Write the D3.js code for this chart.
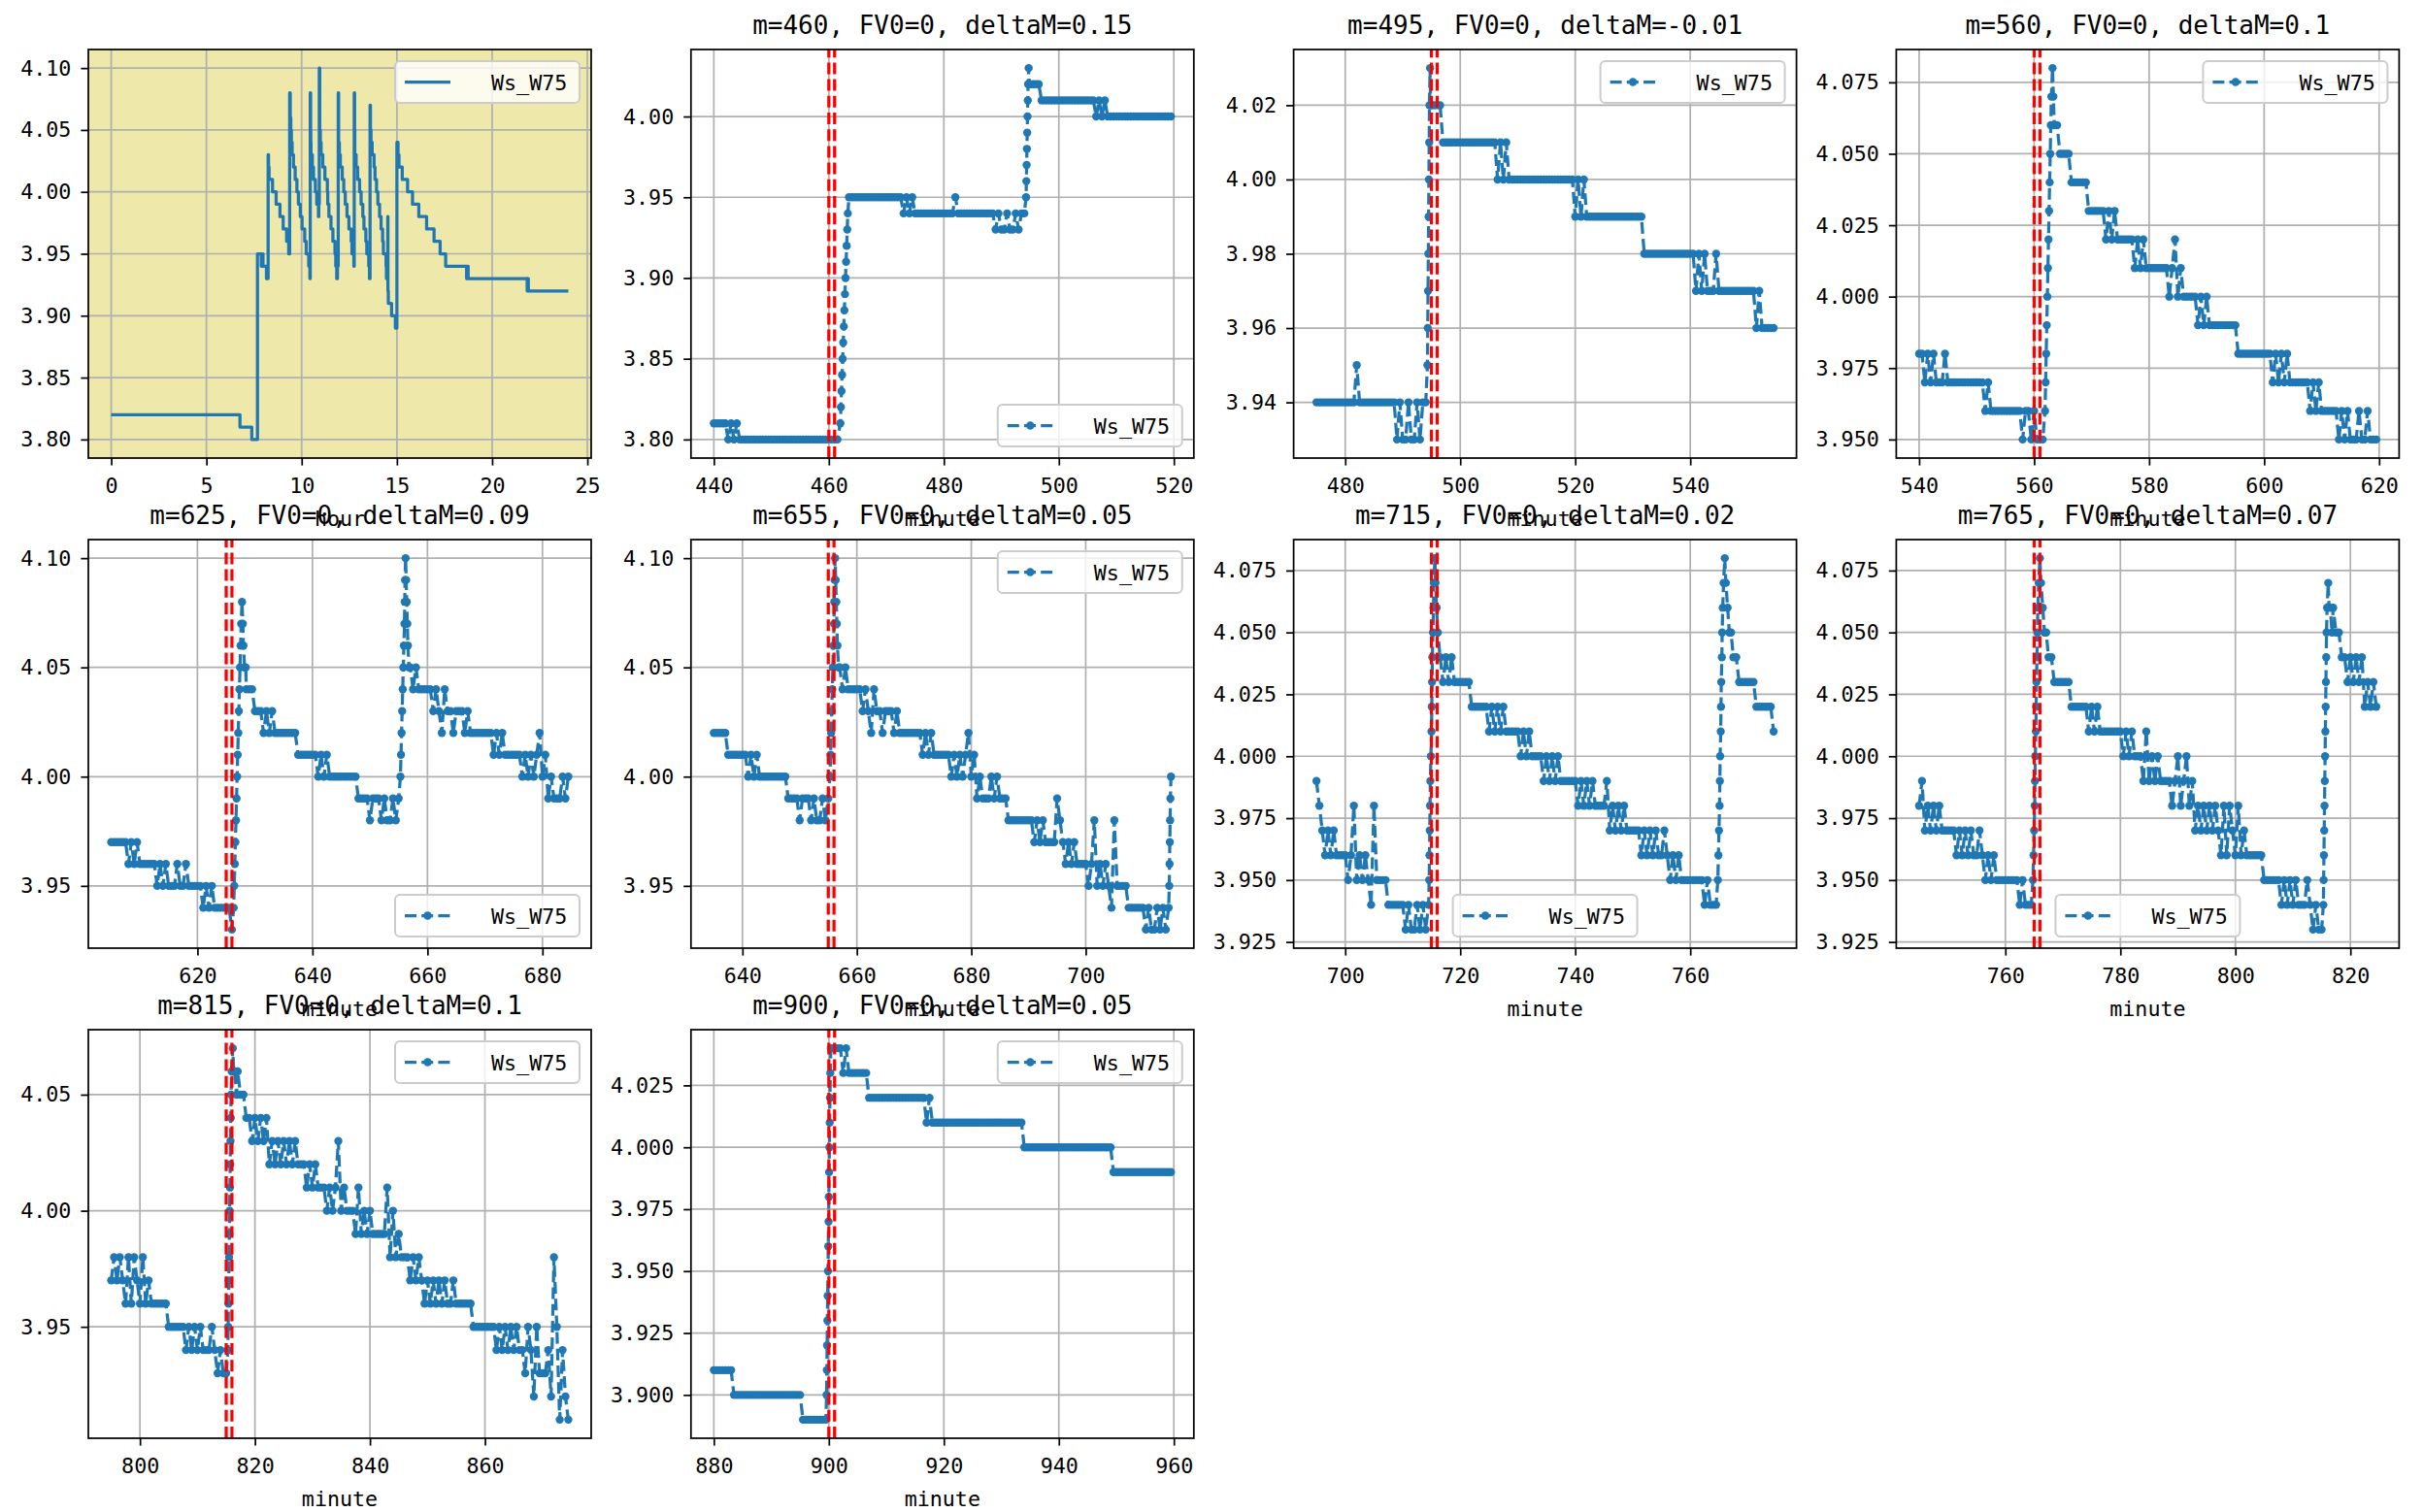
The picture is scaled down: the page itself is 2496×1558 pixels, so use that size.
<!DOCTYPE html>
<html><head><meta charset="utf-8">
<script src="https://cdn.jsdelivr.net/npm/d3@7"></script>
<style>body{margin:0;background:#fff}svg{display:block}</style>
</head><body>
<svg id="c" width="2496" height="1558"></svg>
<script>
// ---------------- DATA ----------------
// Panel 1: whole day, x in hours (step points: [hour, value])
const dayPoints = [[0,3.82],[6.76,3.81],[7.38,3.80],[7.68,3.95],[7.88,3.94],[7.95,3.95],[7.97,3.94],[8.15,3.93],[8.18,3.94],[8.21,3.93],[8.24,4.03],[8.26,4.02],[8.29,4.01],[8.47,4.00],[8.66,3.99],[8.86,3.98],[9.03,3.97],[9.21,3.96],[9.32,3.95],[9.37,4.08],[9.40,4.06],[9.43,4.05],[9.46,4.04],[9.50,4.03],[9.57,4.02],[9.66,4.01],[9.75,4.00],[9.83,3.99],[9.93,3.98],[10.02,3.97],[10.16,3.96],[10.24,3.95],[10.37,3.94],[10.43,3.93],[10.45,4.08],[10.47,4.05],[10.48,4.04],[10.49,4.03],[10.56,4.02],[10.62,4.01],[10.72,4.00],[10.79,3.99],[10.88,3.98],[10.90,3.99],[10.925,4.10],[10.95,4.05],[10.98,4.04],[11.02,4.03],[11.11,4.02],[11.22,4.01],[11.35,4.00],[11.37,3.99],[11.43,3.98],[11.54,3.97],[11.64,3.96],[11.75,3.95],[11.79,3.94],[11.84,3.93],[11.88,3.94],[11.92,4.08],[11.94,4.04],[11.98,4.03],[12.03,4.02],[12.13,4.01],[12.21,4.00],[12.29,3.99],[12.38,3.98],[12.48,3.97],[12.60,3.96],[12.64,3.95],[12.74,3.94],[12.76,4.08],[12.78,4.05],[12.79,4.03],[12.86,4.02],[12.94,4.01],[13.04,4.00],[13.12,3.99],[13.21,3.98],[13.27,3.97],[13.37,3.96],[13.42,3.95],[13.52,3.94],[13.56,3.93],[13.59,4.07],[13.61,4.05],[13.64,4.04],[13.70,4.03],[13.80,4.02],[13.85,4.01],[13.93,4.00],[14.00,3.99],[14.09,3.98],[14.17,3.97],[14.25,3.96],[14.29,3.95],[14.43,3.94],[14.45,3.93],[14.52,3.98],[14.53,3.92],[14.55,3.91],[14.72,3.90],[14.92,3.89],[15.00,4.04],[15.06,4.03],[15.11,4.02],[15.28,4.01],[15.56,4.00],[15.82,3.99],[16.15,3.98],[16.56,3.97],[16.95,3.96],[17.27,3.95],[17.56,3.94],[18.66,3.93],[18.70,3.94],[18.74,3.93],[21.84,3.92],[21.88,3.93],[21.90,3.92],[24.00,3.92]];
const dayXTicks = [0,5,10,15,20,25];
const dayYTicks = [3.80,3.85,3.90,3.95,4.00,4.05,4.10];

// Minute series Ws_W75, sampled every half minute; each chunk starts at chunkStart[k]
const chunkStart = [440,480,520,560,600,640,680,720,760,800,840,880,920];
const wsA = [
3.81,3.81,3.81,3.81,3.81,3.80,3.81,3.80,3.81,3.80,3.80,3.80,3.80,3.80,3.80,3.80,3.80,3.80,3.80,3.80,
3.80,3.80,3.80,3.80,3.80,3.80,3.80,3.80,3.80,3.80,3.80,3.80,3.80,3.80,3.80,3.80,3.80,3.80,3.80,3.80,
3.80,3.80,3.80,3.80,3.83,3.87,3.91,3.95,3.95,3.95,3.95,3.95,3.95,3.95,3.95,3.95,3.95,3.95,3.95,3.95,
3.95,3.95,3.95,3.95,3.95,3.95,3.94,3.95,3.94,3.95,3.94,3.94,3.94,3.94,3.94,3.94,3.94,3.94,3.94,3.94];
const wsB = [
3.94,3.94,3.94,3.94,3.95,3.94,3.94,3.94,3.94,3.94,3.94,3.94,3.94,3.94,3.94,3.94,3.94,3.94,3.93,3.94,
3.93,3.93,3.94,3.93,3.93,3.94,3.93,3.94,3.94,3.99,4.02,4.02,4.02,4.02,4.01,4.01,4.01,4.01,4.01,4.01,
4.01,4.01,4.01,4.01,4.01,4.01,4.01,4.01,4.01,4.01,4.01,4.01,4.01,4.00,4.01,4.00,4.01,4.00,4.00,4.00,
4.00,4.00,4.00,4.00,4.00,4.00,4.00,4.00,4.00,4.00,4.00,4.00,4.00,4.00,4.00,4.00,4.00,4.00,4.00,4.00];
const wsC = [
3.99,4.00,3.99,4.00,3.99,3.99,3.99,3.99,3.99,3.99,3.99,3.99,3.99,3.99,3.99,3.99,3.99,3.99,3.99,3.99,
3.99,3.99,3.99,3.99,3.98,3.98,3.98,3.98,3.98,3.98,3.98,3.98,3.98,3.98,3.98,3.98,3.98,3.98,3.98,3.98,
3.98,3.98,3.97,3.98,3.97,3.98,3.97,3.97,3.97,3.98,3.97,3.97,3.97,3.97,3.97,3.97,3.97,3.97,3.97,3.97,
3.97,3.97,3.97,3.96,3.97,3.96,3.96,3.96,3.96,3.96,3.96,3.96,3.96,3.96,3.96,3.96,3.95,3.96,3.96,3.95];
const wsD = [
3.96,3.95,3.95,3.95,4.00,4.02,4.07,4.06,4.06,4.05,4.05,4.05,4.05,4.04,4.04,4.04,4.04,4.04,4.04,4.03,
4.03,4.03,4.03,4.03,4.03,4.02,4.03,4.02,4.03,4.02,4.02,4.02,4.02,4.02,4.02,4.01,4.02,4.01,4.02,4.01,
4.01,4.01,4.01,4.01,4.01,4.01,4.01,4.00,4.01,4.02,4.00,4.01,4.00,4.00,4.00,4.00,4.00,3.99,4.00,3.99,
4.00,3.99,3.99,3.99,3.99,3.99,3.99,3.99,3.99,3.99,3.99,3.98,3.98,3.98,3.98,3.98,3.98,3.98,3.98,3.98];
const wsE = [
3.98,3.98,3.98,3.97,3.98,3.97,3.98,3.97,3.98,3.97,3.97,3.97,3.97,3.97,3.97,3.97,3.96,3.97,3.96,3.97,
3.96,3.96,3.96,3.96,3.96,3.96,3.95,3.96,3.95,3.96,3.95,3.95,3.95,3.96,3.95,3.95,3.96,3.95,3.95,3.95,
3.95,3.95,3.94,3.95,3.94,3.95,3.94,3.94,3.94,3.94,3.94,3.94,3.93,3.96,4.01,4.06,4.06,4.04,4.04,4.04,
4.03,4.03,4.03,4.02,4.03,4.02,4.03,4.02,4.02,4.02,4.02,4.02,4.02,4.02,4.02,4.01,4.01,4.01,4.01,4.01];
const wsF = [
4.01,4.01,4.00,4.01,4.00,4.01,4.00,4.00,4.00,4.00,4.00,4.00,4.00,4.00,4.00,4.00,3.99,3.99,3.99,3.99,
3.98,3.99,3.99,3.99,3.98,3.99,3.98,3.98,3.99,3.98,3.99,4.02,4.08,4.07,4.05,4.04,4.05,4.04,4.04,4.04,
4.04,4.04,4.03,4.04,4.03,4.02,4.04,4.03,4.03,4.02,4.03,4.03,4.03,4.02,4.03,4.02,4.02,4.02,4.02,4.02,
4.02,4.02,4.02,4.01,4.02,4.01,4.02,4.01,4.01,4.01,4.01,4.01,4.01,4.00,4.01,4.00,4.01,4.00,4.01,4.02];
const wsG = [
4.00,4.01,3.99,4.00,3.99,3.99,3.99,4.00,3.99,4.00,3.99,3.99,3.99,3.98,3.98,3.98,3.98,3.98,3.98,3.98,
3.98,3.98,3.97,3.98,3.97,3.98,3.97,3.97,3.97,3.97,3.99,3.98,3.97,3.96,3.97,3.96,3.97,3.96,3.96,3.96,
3.96,3.95,3.96,3.98,3.95,3.96,3.95,3.96,3.95,3.94,3.98,3.95,3.95,3.95,3.95,3.94,3.94,3.94,3.94,3.94,
3.94,3.93,3.94,3.93,3.93,3.94,3.93,3.94,3.93,3.94,4.02,4.07,4.06,4.04,4.03,4.04,4.03,4.04,4.03,4.03];
const wsH = [
4.03,4.03,4.03,4.03,4.02,4.02,4.02,4.02,4.02,4.02,4.01,4.02,4.01,4.02,4.01,4.02,4.01,4.01,4.01,4.01,
4.01,4.00,4.01,4.00,4.01,4.00,4.00,4.00,4.00,3.99,4.00,3.99,4.00,3.99,4.00,3.99,3.99,3.99,3.99,3.99,
3.99,3.98,3.99,3.98,3.99,3.98,3.99,3.98,3.98,3.98,3.98,3.99,3.97,3.98,3.97,3.98,3.97,3.98,3.97,3.97,
3.97,3.97,3.97,3.96,3.97,3.96,3.97,3.96,3.97,3.96,3.96,3.97,3.96,3.95,3.96,3.95,3.96,3.95,3.95,3.95];
const wsI = [
3.95,3.95,3.95,3.95,3.95,3.94,3.95,3.94,3.94,3.94,3.97,4.04,4.08,4.06,4.05,4.04,4.04,4.03,4.03,4.03,
4.03,4.03,4.03,4.02,4.02,4.02,4.02,4.02,4.02,4.01,4.02,4.01,4.02,4.01,4.01,4.01,4.01,4.01,4.01,4.01,
4.01,4.00,4.01,4.00,4.01,4.00,4.00,4.00,3.99,4.01,3.99,4.00,3.99,4.00,3.99,3.99,3.99,3.99,3.98,3.99,
4.00,3.98,3.99,4.00,3.98,3.99,3.97,3.98,3.97,3.98,3.97,3.98,3.97,3.98,3.97,3.96,3.98,3.96,3.98,3.97];
const wsJ = [
3.96,3.98,3.96,3.97,3.96,3.96,3.96,3.96,3.96,3.96,3.95,3.95,3.95,3.95,3.95,3.95,3.94,3.95,3.94,3.95,
3.94,3.95,3.94,3.94,3.94,3.95,3.94,3.93,3.94,3.93,3.93,3.98,4.05,4.06,4.06,4.05,4.05,4.04,4.04,4.03,
4.04,4.03,4.04,4.03,4.04,4.02,4.03,4.02,4.03,4.02,4.03,4.02,4.03,4.02,4.03,4.02,4.02,4.02,4.01,4.02,
4.01,4.02,4.01,4.01,4.01,4.00,4.01,4.00,4.01,4.03,4.00,4.01,4.00,4.00,4.00,3.99,4.01,3.99,4.00,3.99];
const wsK = [
4.00,3.99,3.99,3.99,3.99,3.99,4.01,3.98,4.00,3.98,3.99,3.98,3.98,3.98,3.97,3.98,3.97,3.98,3.97,3.96,
3.97,3.96,3.97,3.96,3.97,3.96,3.97,3.96,3.96,3.97,3.96,3.96,3.96,3.96,3.96,3.96,3.95,3.95,3.95,3.95,
3.95,3.95,3.95,3.95,3.94,3.95,3.94,3.95,3.94,3.95,3.94,3.95,3.94,3.94,3.93,3.95,3.94,3.92,3.95,3.93,
3.93,3.93,3.94,3.92,3.98,3.95,3.91,3.94,3.92,3.91];
const wsL = [
3.91,3.91,3.91,3.91,3.91,3.91,3.91,3.90,3.90,3.90,3.90,3.90,3.90,3.90,3.90,3.90,3.90,3.90,3.90,3.90,
3.90,3.90,3.90,3.90,3.90,3.90,3.90,3.90,3.90,3.90,3.90,3.89,3.89,3.89,3.89,3.89,3.89,3.89,3.89,3.89,
3.98,4.04,4.04,4.04,4.04,4.03,4.04,4.03,4.03,4.03,4.03,4.03,4.03,4.03,4.02,4.02,4.02,4.02,4.02,4.02,
4.02,4.02,4.02,4.02,4.02,4.02,4.02,4.02,4.02,4.02,4.02,4.02,4.02,4.02,4.01,4.02,4.01,4.01,4.01,4.01];
const wsM = [
4.01,4.01,4.01,4.01,4.01,4.01,4.01,4.01,4.01,4.01,4.01,4.01,4.01,4.01,4.01,4.01,4.01,4.01,4.01,4.01,
4.01,4.01,4.01,4.01,4.01,4.01,4.01,4.01,4.00,4.00,4.00,4.00,4.00,4.00,4.00,4.00,4.00,4.00,4.00,4.00,
4.00,4.00,4.00,4.00,4.00,4.00,4.00,4.00,4.00,4.00,4.00,4.00,4.00,4.00,4.00,4.00,4.00,4.00,4.00,3.99,
3.99,3.99,3.99,3.99,3.99,3.99,3.99,3.99,3.99,3.99,3.99,3.99,3.99,3.99,3.99,3.99,3.99,3.99,3.99,3.99];

// Fast moves recorded at finer time resolution: [minute, value]
const rise460 = [[462.0,3.81],[462.1,3.82],[462.2,3.83],[462.3,3.84],[462.4,3.85],[462.5,3.86],[462.6,3.87],[462.7,3.88],[462.8,3.89],[462.9,3.90],[463.0,3.91],[463.1,3.92],[463.2,3.93],[463.3,3.94]];
const rise495 = [[494.3,3.95],[494.35,3.96],[494.4,3.97],[494.45,3.98],[494.5,3.99],[494.55,4.00],[494.6,4.01],[494.65,4.02],[494.75,4.03],[494.85,4.02]];
const rise560 = [[561.9,3.96],[562.0,3.97],[562.1,3.98],[562.2,3.99],[562.3,4.00],[562.4,4.01],[562.5,4.02],[562.6,4.03],[562.7,4.04],[562.8,4.05],[562.9,4.06],[563.0,4.07],[563.2,4.08],[563.35,4.07]];
const rise625 = [[626.3,3.94],[626.4,3.95],[626.5,3.96],[626.6,3.97],[626.7,3.98],[626.8,3.99],[626.9,4.00],[627.0,4.01],[627.1,4.02],[627.2,4.03],[627.3,4.04],[627.4,4.05],[627.5,4.06],[627.6,4.07],[627.75,4.08],[627.9,4.07],[628.0,4.06],[628.2,4.05],[628.4,4.05]];
const rise655 = [[655.3,4.00],[655.4,4.01],[655.5,4.02],[655.6,4.03],[655.7,4.04],[655.8,4.05],[655.9,4.06],[656.0,4.07],[656.05,4.08],[656.1,4.09],[656.2,4.10],[656.3,4.09],[656.4,4.08],[656.5,4.07],[656.6,4.06],[656.8,4.05]];
const rise715 = [[714.6,3.95],[714.65,3.96],[714.7,3.97],[714.75,3.98],[714.8,3.99],[714.9,4.00],[715.0,4.01],[715.05,4.02],[715.1,4.03],[715.15,4.04],[715.25,4.05],[715.35,4.06],[715.4,4.07],[715.6,4.08],[715.7,4.07],[715.9,4.06],[716.1,4.05]];
const rise765 = [[764.8,3.95],[764.9,3.96],[765.0,3.97],[765.1,3.98],[765.15,3.99],[765.2,4.00],[765.3,4.01],[765.35,4.02],[765.4,4.03],[765.5,4.04],[765.55,4.05],[765.65,4.06],[765.8,4.07],[766.0,4.08],[766.2,4.07],[766.5,4.06],[766.8,4.05],[767.1,4.05]];
const rise815 = [[815.3,3.94],[815.35,3.95],[815.4,3.96],[815.45,3.97],[815.5,3.98],[815.55,3.99],[815.6,4.00],[815.65,4.01],[815.7,4.02],[815.75,4.03],[815.8,4.04],[815.85,4.05],[815.95,4.06],[816.15,4.07],[816.3,4.06],[816.5,4.06],[816.8,4.05]];
const rise900 = [[899.6,3.90],[899.65,3.91],[899.7,3.92],[899.75,3.93],[899.8,3.94],[899.85,3.95],[899.9,3.96],[899.95,3.97],[900.0,3.98],[900.05,3.99],[900.1,4.00],[900.15,4.01],[900.2,4.02],[900.25,4.03],[900.35,4.04]];

// Sub-panels
const panelM = [460,495,560,625,655,715,765,815,900];
const panelFV0 = [0,0,0,0,0,0,0,0,0];
const panelDeltaM = ["0.15","-0.01","0.1","0.09","0.05","0.02","0.07","0.1","0.05"];
const panelXTicks = [[440,460,480,500,520],[480,500,520,540],[540,560,580,600,620],[620,640,660,680],[640,660,680,700],[700,720,740,760],[760,780,800,820],[800,820,840,860],[880,900,920,940,960]];
const panelYTicks = [[3.80,3.85,3.90,3.95,4.00],[3.94,3.96,3.98,4.00,4.02],[3.950,3.975,4.000,4.025,4.050,4.075],[3.95,4.00,4.05,4.10],[3.95,4.00,4.05,4.10],[3.925,3.950,3.975,4.000,4.025,4.050,4.075],[3.925,3.950,3.975,4.000,4.025,4.050,4.075],[3.95,4.00,4.05],[3.900,3.925,3.950,3.975,4.000,4.025]];
const panelYDecimals = [2,2,3,2,2,3,3,2,3];
const panelLegend = ["lower right","upper right","upper right","lower right","upper right","lower center","lower center","upper right","upper right"];
const seriesName = "Ws_W75";

// ---------------- DRAWING ----------------
const FONT = '"DejaVu Sans Mono", "Liberation Mono", monospace';
const BLUE = "#1f77b4";
const W = 518, H = 421;
const colX = [91, 711.8, 1332.6, 1953.4], rowY = [51, 556, 1061];
const LW = 3.25, GRIDW = 1.73, FS = 21.7, TFS = 26, MR = 4.2;
const svg = d3.select("#c");
svg.append("rect").attr("width",2496).attr("height",1558).attr("fill","#fff");
const defs = svg.append("defs");

const chunks = [wsA,wsB,wsC,wsD,wsE,wsF,wsG,wsH,wsI,wsJ,wsK,wsL,wsM];
const bursts = [rise460,rise495,rise560,rise625,rise655,rise715,rise765,rise815,rise900];
const gridPts = [];
chunks.forEach((arr,k) => arr.forEach((v,i) => gridPts.push({t: chunkStart[k] + i*0.5, v})));
const series = gridPts
  .filter(p => !bursts.some(b => p.t >= b[0][0] && p.t <= b[b.length-1][0]))
  .concat(bursts.flat().map(([t,v]) => ({t, v})))
  .sort((a,b) => a.t - b.t);

function padDomain(ext){ const r = ext[1]-ext[0]; return [ext[0]-0.05*r, ext[1]+0.05*r]; }

function frame(i){
  const c = i % 4, r = Math.floor(i/4);
  const g = svg.append("g").attr("transform", `translate(${colX[c]},${rowY[r]})`);
  const id = "clip" + i;
  defs.append("clipPath").attr("id", id).append("rect").attr("width", W).attr("height", H);
  return {g, id};
}

function drawGrid(g, x, y, xt, yt){
  const gg = g.append("g");
  gg.selectAll("line.gx").data(xt).join("line").attr("class","gx").attr("x1",d=>x(d)).attr("x2",d=>x(d)).attr("y1",0).attr("y2",H)
    .attr("stroke","#b0b0b0").attr("stroke-width",GRIDW);
  gg.selectAll("line.gy").data(yt).join("line").attr("class","gy").attr("y1",d=>y(d)).attr("y2",d=>y(d)).attr("x1",0).attr("x2",W)
    .attr("stroke","#b0b0b0").attr("stroke-width",GRIDW);
}

function drawAxes(g, x, y, xt, yt, yfmt, xlabel){
  g.append("rect").attr("width",W).attr("height",H).attr("fill","none").attr("stroke","#000").attr("stroke-width",GRIDW);
  const ax = g.append("g").attr("transform",`translate(0,${H})`)
    .call(d3.axisBottom(x).tickValues(xt).tickSize(7.6).tickPadding(13).tickFormat(d3.format("d")));
  const ay = g.append("g")
    .call(d3.axisLeft(y).tickValues(yt).tickSize(7.6).tickPadding(10).tickFormat(d3.format(yfmt)));
  [ax, ay].forEach(a => {
    a.select(".domain").remove();
    a.selectAll("line").attr("stroke","#000").attr("stroke-width",GRIDW);
    a.selectAll("text").attr("font-size",FS).attr("font-family",FONT).attr("fill","#000");
  });
  g.append("text").attr("x",W/2).attr("y",H+70).attr("text-anchor","middle")
    .attr("font-size",FS).attr("font-family",FONT).text(xlabel);
}

function drawLegend(g, place, dashed){
  const bw = 190, bh = 43;
  const bx = place === "lower center" ? (W-bw)/2 : W-12-bw;
  const by = place === "upper right" ? 12 : H-12-bh;
  const lg = g.append("g").attr("transform",`translate(${bx},${by})`);
  lg.append("rect").attr("width",bw).attr("height",bh).attr("rx",5).attr("fill","#fff").attr("fill-opacity",0.8)
    .attr("stroke","#cccccc").attr("stroke-width",2);
  const hl = lg.append("line").attr("x1",10).attr("x2",57).attr("y1",bh/2).attr("y2",bh/2)
    .attr("stroke",BLUE).attr("stroke-width",LW);
  if (dashed){
    hl.attr("stroke-dasharray","12,5.2");
    lg.append("circle").attr("cx",33.5).attr("cy",bh/2).attr("r",MR).attr("fill",BLUE);
  }
  lg.append("text").attr("x",99).attr("y",bh/2+8).attr("font-size",FS).attr("font-family",FONT).text(seriesName);
}

// ---- Panel 1 (hour) ----
{
  const {g, id} = frame(0);
  const x = d3.scaleLinear().domain(padDomain(d3.extent(dayPoints, d=>d[0]))).range([0,W]);
  const y = d3.scaleLinear().domain(padDomain(d3.extent(dayPoints, d=>d[1]))).range([H,0]);
  g.append("rect").attr("width",W).attr("height",H).attr("fill","#eee8aa");
  drawGrid(g, x, y, dayXTicks.filter(d=>d<=x.domain()[1]), dayYTicks);
  g.append("path").attr("clip-path",`url(#${id})`)
    .attr("d", d3.line().x(d=>x(d[0])).y(d=>y(d[1])).curve(d3.curveStepAfter)(dayPoints))
    .attr("fill","none").attr("stroke",BLUE).attr("stroke-width",LW).attr("stroke-linejoin","round");
  drawAxes(g, x, y, dayXTicks, dayYTicks, ".2f", "hour");
  drawLegend(g, "upper right", false);
}

// ---- Panels 2..10 (minute windows) ----
panelM.forEach((m, k) => {
  const i = k + 1;
  const {g, id} = frame(i);
  const data = series.filter(p => p.t >= m-20 && p.t < m+60);
  const x = d3.scaleLinear().domain(padDomain(d3.extent(data, d=>d.t))).range([0,W]);
  const y = d3.scaleLinear().domain(padDomain(d3.extent(data, d=>d.v))).range([H,0]);
  drawGrid(g, x, y, panelXTicks[k], panelYTicks[k]);
  const plot = g.append("g").attr("clip-path",`url(#${id})`);
  plot.append("path")
    .attr("d", d3.line().x(d=>x(d.t)).y(d=>y(d.v))(data))
    .attr("fill","none").attr("stroke",BLUE).attr("stroke-width",LW)
    .attr("stroke-dasharray","12,5.2").attr("stroke-linejoin","round");
  plot.selectAll("circle").data(data).join("circle")
    .attr("cx",d=>x(d.t)).attr("cy",d=>y(d.v)).attr("r",MR).attr("fill",BLUE);
  plot.selectAll("line.vl").data([m, m+1]).join("line").attr("class","vl")
    .attr("x1",d=>x(d)).attr("x2",d=>x(d)).attr("y1",H).attr("y2",0)
    .attr("stroke","#ff0000").attr("stroke-width",LW).attr("stroke-dasharray","12,5.2");
  drawAxes(g, x, y, panelXTicks[k], panelYTicks[k], "." + panelYDecimals[k] + "f", "minute");
  drawLegend(g, panelLegend[k], true);
  g.append("text").attr("x",W/2).attr("y",-16).attr("text-anchor","middle")
    .attr("font-size",TFS).attr("font-family",FONT)
    .text(`m=${m}, FV0=${panelFV0[k]}, deltaM=${panelDeltaM[k]}`);
});
</script>
</body></html>
